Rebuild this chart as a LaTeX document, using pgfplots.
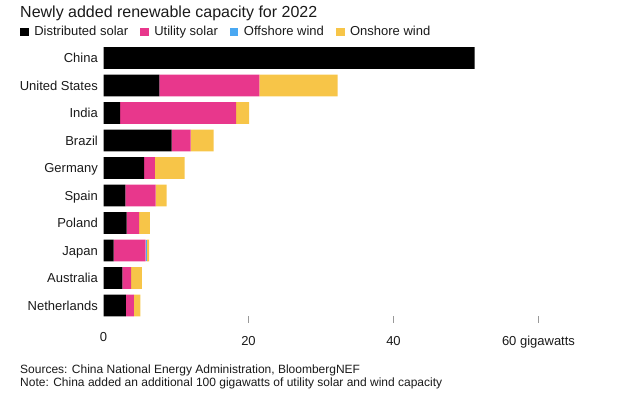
\documentclass[border=0pt]{standalone}
\usepackage{fontspec}
\setmainfont{Liberation Sans}
\usepackage{pgfplots}
\pgfplotsset{compat=1.18}

\definecolor{dsolar}{HTML}{000000}
\definecolor{usolar}{HTML}{E8378C}
\definecolor{offwind}{HTML}{4AA8F2}
\definecolor{onwind}{HTML}{F7C548}
\definecolor{txt}{HTML}{1A1A1A}

% values in gigawatts, rows: 0 China ... 9 Netherlands
\pgfplotstableread{
idx dist util off on
0 51.2 0.0 0.0 0.0
1 7.7 13.8 0.0 10.8
2 2.3 16.0 0.0 1.8
3 9.4 2.6 0.0 3.2
4 5.6 1.5 0.0 4.1
5 3.0 4.2 0.0 1.5
6 3.2 1.7 0.0 1.5
7 1.4 4.4 0.1 0.4
8 2.6 1.2 0.0 1.5
9 3.1 1.1 0.0 0.9
}\capacity

\begin{document}
\begin{tikzpicture}[x=1pt,y=1pt]
\path (0,0) rectangle (640,407);
\node[anchor=base west, inner sep=0pt, font=\fontsize{16}{18}\selectfont, text=txt] at (20,389.5) {Newly added renewable capacity for 2022};
\begin{axis}[
  at={(103.5pt,87.8pt)}, anchor=south west,
  scale only axis, width=471.25pt, height=275pt,
  xbar stacked, bar width=21.7pt,
  xmin=0, xmax=65, ymin=-0.5, ymax=9.5,
  y dir=reverse,
  axis line style={draw=none},
  ytick={0,...,9},
  yticklabels={China,United States,India,Brazil,Germany,Spain,Poland,Japan,Australia,Netherlands},
  ytick style={draw=none},
  yticklabel style={anchor=base east, inner sep=0pt, xshift=-2pt, yshift=-4.6pt, font=\fontsize{13}{15}\selectfont, text=txt},
  xtick={20,40,60},
  xticklabels={20,40,60 gigawatts},
  xtick style={draw=black!40, line width=0.7pt},
  major tick length=7pt, tick align=center,
  xticklabel style={anchor=base, inner sep=0pt, yshift=-22.5pt, font=\fontsize{13}{15}\selectfont, text=txt},
  extra x ticks={0},
  extra x tick labels={0},
  extra x tick style={major tick length=0pt},
  xtick pos=bottom,
  /pgf/number format/assume math mode=true,
  legend columns=4,
  legend style={at={(-0.1772,1.0445)}, anchor=west, draw=none, fill=none, inner sep=0pt,
    font=\fontsize{13}{15}\selectfont, text=txt,
    /tikz/every odd column/.append style={column sep=3.5pt},
    /tikz/every even column/.append style={column sep=10pt}},
  legend image code/.code={\fill[#1] (0pt,-4.3pt) rectangle (8.6pt,4.3pt);},
]
\addplot[fill=dsolar, draw=none] table[x=dist, y=idx] {\capacity};
\addplot[fill=usolar, draw=none] table[x=util, y=idx] {\capacity};
\addplot[fill=offwind, draw=none] table[x=off, y=idx] {\capacity};
\addplot[fill=onwind, draw=none] table[x=on, y=idx] {\capacity};
\legend{Distributed solar, Utility solar, Offshore wind, Onshore wind}
\end{axis}
\node[anchor=base west, inner sep=0pt, font=\fontsize{12}{14}\selectfont, text=txt] at (20,33) {Sources: China National Energy Administration, BloombergNEF};
\node[anchor=base west, inner sep=0pt, font=\fontsize{12}{14}\selectfont, text=txt] at (20,20.5) {Note: China added an additional 100 gigawatts of utility solar and wind capacity};
\end{tikzpicture}
\end{document}
